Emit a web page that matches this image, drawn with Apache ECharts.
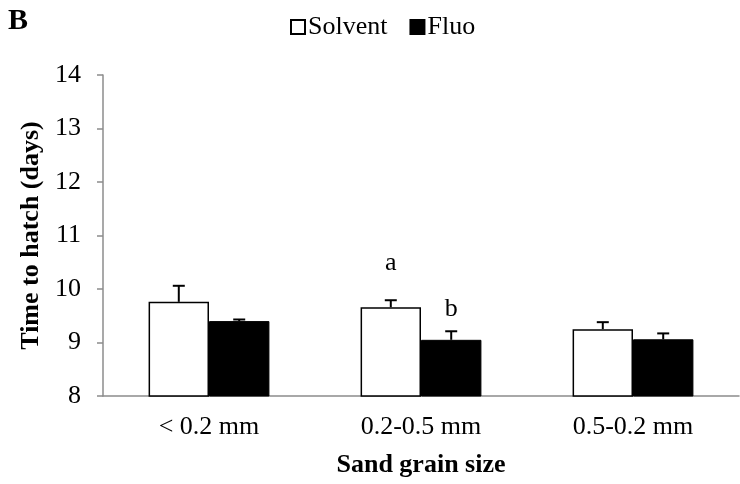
<!DOCTYPE html>
<html>
<head>
<meta charset="utf-8">
<script src="https://cdn.jsdelivr.net/npm/echarts@6/dist/echarts.min.js"></script>
<style>
  html, body { margin: 0; padding: 0; background: #fff; }
  #chart { width: 740px; height: 484px; }
</style>
</head>
<body>
<div id="chart"></div>
<script>
const categories = ['< 0.2 mm', '0.2-0.5 mm', '0.5-0.2 mm']
const solventMean = [9.76, 9.66, 9.25]
const solventErr = [0.30, 0.13, 0.13]
const fluoMean = [9.40, 9.05, 9.06]
const fluoErr = [0.03, 0.16, 0.11]
// significance letters and the value level they sit at
const solventLetters = ['', 'a', '']
const solventLetterLevel = [null, 10.48, null]
const fluoLetters = ['', 'b', '']
const fluoLetterLevel = [null, 9.62, null]

const FONT = '"Liberation Serif", "Times New Roman", serif'
const GAP = 0.43

const chart = echarts.init(document.getElementById('chart'))

// side: -1 = left bar (Solvent), +1 = right bar (Fluo)
const errorRender = side => (params, api) => {
  const i = api.value(0)
  const m = api.value(1)
  const e = api.value(2)
  const band = api.size([1, 0])[0]
  const barW = band * (1 - GAP) / 2
  const base = api.coord([i, m])
  const top = api.coord([i, m + e])
  const x = base[0] + side * barW / 2
  return {
    type: 'group',
    children: [
      { type: 'line', shape: { x1: x, y1: base[1], x2: x, y2: top[1] }, style: { stroke: '#000', lineWidth: 2 } },
      { type: 'line', shape: { x1: x - 6, y1: top[1], x2: x + 6, y2: top[1] }, style: { stroke: '#000', lineWidth: 2 } }
    ]
  }
}

const letterRender = side => (params, api) => {
  const i = api.value(0)
  const band = api.size([1, 0])[0]
  const barW = band * (1 - GAP) / 2
  const p = api.coord([i, api.value(1)])
  const txt = (side < 0 ? solventLetters : fluoLetters)[i]
  return {
    type: 'text',
    x: p[0] + side * barW / 2,
    y: p[1],
    style: {
      text: txt,
      fill: '#000',
      font: '26px ' + FONT,
      align: 'center',
      verticalAlign: 'middle'
    }
  }
}

const option = {
  backgroundColor: '#fff',
  animation: false,
  title: {
    text: 'B',
    left: 3,
    top: 1,
    textStyle: { fontFamily: FONT, fontSize: 30, fontWeight: 'bold', color: '#000' }
  },
  legend: {
    data: ['Solvent', 'Fluo'],
    icon: 'rect',
    left: 285,
    top: 9,
    itemWidth: 14,
    itemHeight: 14,
    itemGap: 22,
    textStyle: { fontFamily: FONT, fontSize: 26, color: '#000', padding: [0, 0, 0, -2] }
  },
  grid: { left: 103, right: 1, top: 75, bottom: 88 },
  xAxis: {
    type: 'category',
    data: categories,
    name: 'Sand grain size',
    nameLocation: 'middle',
    nameGap: 56,
    nameTextStyle: { fontFamily: FONT, fontSize: 26, fontWeight: 'bold', color: '#000' },
    axisLine: { lineStyle: { color: '#8c8c8c', width: 1.5 } },
    axisTick: { length: 7, lineStyle: { color: '#8c8c8c', width: 1.5 } },
    axisLabel: { fontFamily: FONT, fontSize: 26, color: '#000', margin: 18 }
  },
  yAxis: {
    type: 'value',
    min: 8,
    max: 14,
    interval: 1,
    name: 'Time to hatch (days)',
    nameLocation: 'middle',
    nameGap: 57,
    nameTextStyle: { fontFamily: FONT, fontSize: 26, fontWeight: 'bold', color: '#000' },
    axisLine: { show: true, lineStyle: { color: '#8c8c8c', width: 1.5 } },
    axisTick: { show: true, length: 6, lineStyle: { color: '#8c8c8c', width: 1.5 } },
    axisLabel: { fontFamily: FONT, fontSize: 26, color: '#000', margin: 22 },
    splitLine: { show: false }
  },
  series: [
    {
      name: 'Solvent',
      type: 'bar',
      data: solventMean,
      barGap: '0%',
      barCategoryGap: (GAP * 100) + '%',
      itemStyle: { color: '#fff', borderColor: '#000', borderWidth: 1.5 }
    },
    {
      name: 'Fluo',
      type: 'bar',
      data: fluoMean,
      itemStyle: { color: '#000', borderColor: '#000', borderWidth: 1 }
    },
    {
      type: 'custom',
      renderItem: errorRender(-1),
      data: solventMean.map((m, i) => [i, m, solventErr[i]]),
      z: 5
    },
    {
      type: 'custom',
      renderItem: errorRender(1),
      data: fluoMean.map((m, i) => [i, m, fluoErr[i]]),
      z: 5
    },
    {
      type: 'custom',
      renderItem: letterRender(-1),
      data: solventLetterLevel.map((v, i) => [i, v]).filter(d => d[1] != null),
      z: 6
    },
    {
      type: 'custom',
      renderItem: letterRender(1),
      data: fluoLetterLevel.map((v, i) => [i, v]).filter(d => d[1] != null),
      z: 6
    }
  ]
}

chart.setOption(option)
</script>
</body>
</html>
